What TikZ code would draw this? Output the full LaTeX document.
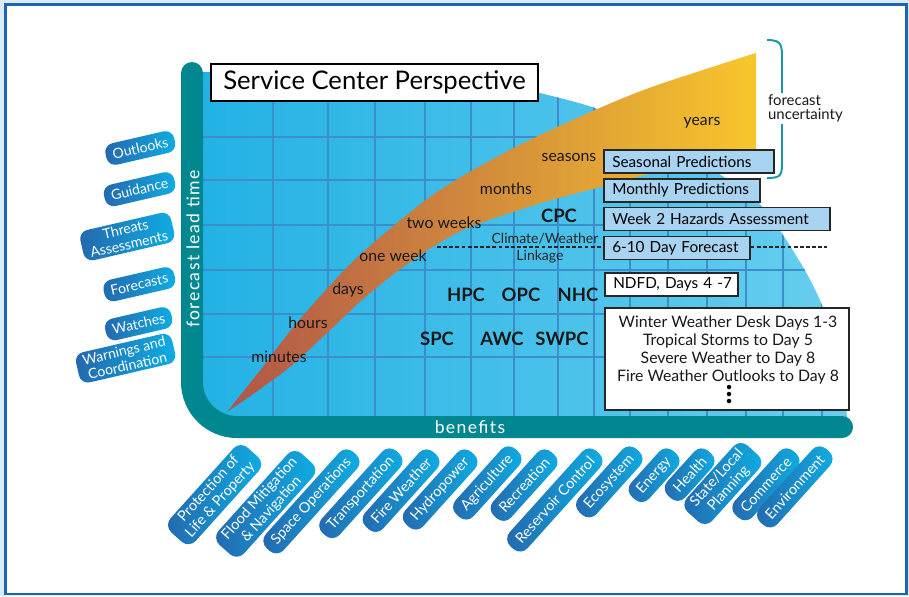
\documentclass[tikz,border=0pt]{standalone}
\usepackage{fontspec}
\setmainfont{Lato}
\usetikzlibrary{positioning}

\definecolor{axisteal}{HTML}{00878F}
\definecolor{frameblue}{HTML}{1B66AE}
\definecolor{pageblue}{HTML}{DCE9F6}
\definecolor{skylow}{HTML}{22B1E4}
\definecolor{skyhigh}{HTML}{68CEEF}
\definecolor{gridblue}{HTML}{3C8ECB}
\definecolor{bandred}{HTML}{B0554A}
\definecolor{bandmid}{HTML}{D89C5E}
\definecolor{bandgold}{HTML}{F7C62C}
\definecolor{predblue}{HTML}{A8D3F1}
\definecolor{pillcyan}{HTML}{0EAEE3}
\definecolor{pilldark}{HTML}{2468AE}
\definecolor{braceteal}{HTML}{1798A3}

% outline of the blue field (pixel units)
\newcommand\skyarea{(192,72) -- (420,72) -- plot[smooth] coordinates {(470,76) (536,92) (595,108) (650,132) (705,165) (759,203) (800,262) (822,305) (836,350) (845,400) (848,427)} -- (237,427) .. controls (212,427) and (192,407) .. (192,382) -- cycle}

\begin{document}
\begin{tikzpicture}[x=0.02cm, y=-0.02cm,
predbox/.style={draw=black!85, line width=0.9pt, fill=predblue, anchor=west, align=left, inner xsep=0.17cm, inner ysep=0pt, minimum height=0.46cm, font=\fontsize{8.7}{10}\selectfont},
scalelabel/.style={text=black!90, font=\fontsize{9}{10}\selectfont},
centerlabel/.style={text=black!90, font=\fontsize{10.5}{12}\selectfont\bfseries},
leftpill/.style={rounded corners=0.18cm, left color=pilldark, right color=pillcyan, text=white, align=center, font=\fontsize{8}{8.8}\selectfont, inner xsep=0.14cm, inner ysep=0.05cm, minimum height=0.44cm, rotate=13, anchor=east},
benefitpill/.style={rounded corners=0.2cm, left color=pilldark, right color=pillcyan, text=white, align=center, font=\fontsize{8.2}{9}\selectfont, inner xsep=0.18cm, inner ysep=0.05cm, minimum height=0.48cm, rotate=48, anchor=east}]

\useasboundingbox (0,0) rectangle (909,596);
\fill[pageblue] (0,0) rectangle (909,596);
\draw[frameblue, line width=0.05cm, fill=white] (5.5,4.5) rectangle (906.5,594);

% blue field with grid
\shade[left color=skylow, right color=skyhigh] \skyarea;
\begin{scope}
\clip \skyarea;
\foreach \gx in {273,328,375,425,471,514,558,594,630,668,707,746,783,822}
  \draw[gridblue, line width=0.7pt] (\gx,40) -- (\gx,430);
\foreach \gy in {137,180,225,270,314,357}
  \draw[gridblue, line width=0.7pt] (190,\gy) -- (860,\gy);
\end{scope}

% uncertainty band
\shade[left color=bandred, middle color=bandmid, right color=bandgold] plot[smooth] coordinates {(227,412) (262,368) (291,330) (325,291) (363,252) (434,194) (506,152) (577,118) (649,88) (756,53)} -- (756,158) -- plot[smooth] coordinates {(700,166) (649,174) (604,186) (541,203) (470,227) (434,246) (399,270) (363,299) (327,333) (291,366) (256,392) (227,412)} -- cycle;

% axes
\coordinate (axtop) at (192,73);
\coordinate (axcorner) at (192,427);
\coordinate (axend) at (842,427);
\draw[axisteal, line width=0.44cm, line cap=round, rounded corners=0.9cm] (axtop) -- (axcorner) -- (axend);
\node (leadtime) [rotate=90, text=white, font=\fontsize{10}{12}\selectfont\addfontfeatures{LetterSpace=8}] at (193,249) {forecast lead time};
\node (benefits) [text=white, font=\fontsize{10}{12}\selectfont\addfontfeatures{LetterSpace=8}] at (470,427) {benefits};

\node (title) [draw=black, line width=1.2pt, fill=white, anchor=north west, minimum width=6.54cm, minimum height=0.74cm, font=\fontsize{14.6}{16}\selectfont] at (210,63) {Service Center Perspective};

% time scale along the band
\node (minutes) [scalelabel] at (279,357) {minutes};
\node (hours) [scalelabel] at (308,323) {hours};
\node (days) [scalelabel] at (348,290) {days};
\node (oneweek) [scalelabel] at (393,256) {one week};
\node (twoweeks) [scalelabel] at (444,223) {two weeks};
\node (months) [scalelabel] at (506,189) {months};
\node (seasons) [scalelabel] at (569,157) {seasons};
\node (years) [scalelabel] at (702,123) {years};

% service centers
\node (cpc) [centerlabel] at (559,216) {CPC};
\node (hpc) [centerlabel] at (466,295) {HPC};
\node (opc) [centerlabel] at (521,295) {OPC};
\node (nhc) [centerlabel] at (578,295) {NHC};
\node (spc) [centerlabel] at (437,339) {SPC};
\node (awc) [centerlabel] at (502,339) {AWC};
\node (swpc) [centerlabel] at (562,339) {SWPC};

% climate/weather linkage
\coordinate (linkL) at (437,247);
\coordinate (linkR) at (827,247);
\draw[black!85, line width=0.6pt, dash pattern=on 2.2pt off 1.3pt] (linkL) -- (linkR);
\node (climate) [text=black!85, font=\fontsize{8}{9}\selectfont] at (545,239) {Climate/Weather};
\node (linkage) [text=black!85, font=\fontsize{8}{9}\selectfont] at (540,257) {Linkage};

% products
\node (seasonal) [predbox, text width=3.06cm] at (603,161.5) {\mbox{Seasonal Predictions}};
\node (monthly) [predbox, text width=2.78cm] at (603,190.5) {\mbox{Monthly Predictions}};
\node (week2) [predbox, text width=4.18cm] at (603,219) {\mbox{Week 2 Hazards Assessment}};
\node (sixten) [predbox, text width=2.58cm] at (603,248) {\mbox{6-10 Day Forecast}};
\node (ndfd) [predbox, fill=white, text width=2.32cm] at (604,284.5) {\mbox{NDFD, Days 4 -7}};
\node (deskbox) [draw=black!85, line width=0.9pt, fill=white, minimum width=4.88cm, minimum height=2.04cm] at (727,359) {};
\node (desklist) [align=center, text=black!90, font=\fontsize{9}{10.4}\selectfont] at (728,350) {Winter Weather Desk Days 1-3\\Tropical Storms to Day 5\\Severe Weather to Day 8\\Fire Weather Outlooks to Day 8};
\foreach \dy in {387,394,401}
  \fill (729,\dy) circle[radius=0.045cm];

% uncertainty brace
\coordinate (braceA) at (767,40);
\coordinate (braceB) at (767,178);
\draw[braceteal, line width=1.1pt] (braceA) .. controls (782,40) and (782,45) .. (782,60) -- (782,160) .. controls (782,175) and (782,178) .. (braceB);
\node (uncert) [anchor=west, fill=white, align=left, inner sep=1pt, text=black!90, font=\fontsize{8.5}{8}\selectfont] at (766,108) {forecast\\uncertainty};

% products along lead time
\node (outlooks) [leftpill] at (175,140) {Outlooks};
\node (guidance) [leftpill] at (175,181) {Guidance};
\node (threats) [leftpill] at (173,226) {Threats\\Assessments};
\node (forecasts) [leftpill] at (175,276) {Forecasts};
\node (watches) [leftpill] at (172,316) {Watches};
\node (warnings) [leftpill] at (174,347) {Warnings and\\Coordination};

% benefits
\node (protection) [benefitpill] at (253,452) {Protection of\\Life \& Property};
\node (flood) [benefitpill] at (307,458) {Flood Mitigation\\\& Navigation};
\node (space) [benefitpill] at (355,453) {Space Operations};
\node (transport) [benefitpill] at (398,452) {Transportation};
\node (fireweather) [benefitpill] at (435,453) {Fire Weather};
\node (hydro) [benefitpill] at (473,453) {Hydropower};
\node (agri) [benefitpill] at (517,450) {Agriculture};
\node (recreation) [benefitpill] at (553,453) {Recreation};
\node (reservoir) [benefitpill] at (598,452) {Reservoir Control};
\node (ecosystem) [benefitpill] at (638,450) {Ecosystem};
\node (energy) [benefitpill] at (675,452) {Energy};
\node (health) [benefitpill] at (710,452) {Health};
\node (planning) [benefitpill] at (753,450) {State/Local\\Planning};
\node (commerce) [benefitpill] at (795,452) {Commerce};
\node (environment) [benefitpill] at (828,450) {Environment};

\end{tikzpicture}
\end{document}
